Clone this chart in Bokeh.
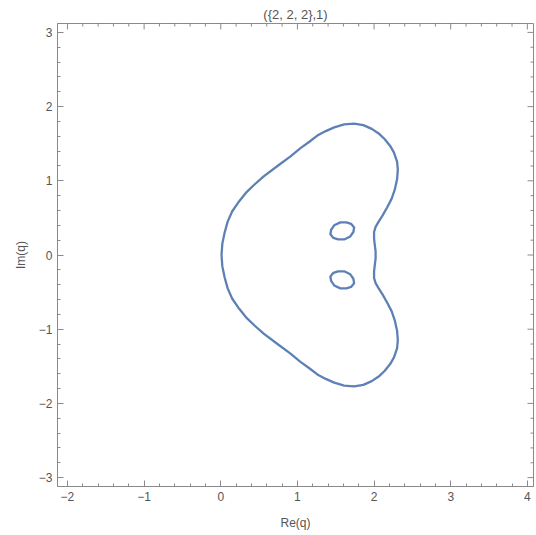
import math
from bokeh.plotting import figure
from bokeh.models import LinearAxis, FixedTicker, Title
from bokeh.embed import file_html
from bokeh.resources import INLINE

# Outer closed curve (Re(q), Im(q))
outer_x = [0.01, 0.02, 0.05, 0.09, 0.15, 0.23, 0.33, 0.44, 0.56, 0.74, 0.91, 1.04, 1.16, 1.26, 1.37, 1.48,
           1.61, 1.74, 1.86, 1.97, 2.07, 2.14, 2.21, 2.26, 2.30, 2.31, 2.30, 2.27, 2.23, 2.17, 2.11, 2.06,
           2.02, 2.00, 2.00, 2.01, 2.02, 2.02, 2.01, 2.00, 2.00, 2.02, 2.06, 2.11, 2.17, 2.23, 2.27, 2.30,
           2.31, 2.30, 2.26, 2.21, 2.14, 2.07, 1.97, 1.86, 1.74, 1.61, 1.48, 1.37, 1.26, 1.16, 1.04, 0.91,
           0.74, 0.56, 0.44, 0.33, 0.23, 0.15, 0.09, 0.05, 0.02, 0.01]
outer_y = [0.00, 0.15, 0.30, 0.45, 0.59, 0.71, 0.84, 0.95, 1.06, 1.20, 1.33, 1.44, 1.53, 1.61, 1.67, 1.72,
           1.76, 1.77, 1.75, 1.70, 1.63, 1.56, 1.47, 1.38, 1.26, 1.15, 1.02, 0.88, 0.76, 0.64, 0.53, 0.45,
           0.38, 0.31, 0.22, 0.13, 0.05, -0.05, -0.13, -0.22, -0.31, -0.38, -0.45, -0.53, -0.64, -0.76, -0.88, -1.02,
           -1.15, -1.26, -1.38, -1.47, -1.56, -1.63, -1.70, -1.75, -1.77, -1.76, -1.72, -1.67, -1.61, -1.53, -1.44, -1.33,
           -1.20, -1.06, -0.95, -0.84, -0.71, -0.59, -0.45, -0.30, -0.15, 0.00]

# Upper small oval
oval1_x = [1.74, 1.70, 1.64, 1.56, 1.48, 1.44, 1.43, 1.47, 1.53, 1.61, 1.69, 1.73, 1.74]
oval1_y = [0.37, 0.42, 0.44, 0.44, 0.40, 0.34, 0.28, 0.23, 0.21, 0.21, 0.25, 0.31, 0.37]

# Lower small oval
oval2_x = [1.74, 1.70, 1.64, 1.56, 1.48, 1.44, 1.43, 1.47, 1.53, 1.61, 1.69, 1.73, 1.74]
oval2_y = [-0.38, -0.43, -0.45, -0.45, -0.41, -0.35, -0.29, -0.24, -0.22, -0.22, -0.26, -0.32, -0.38]

x_ticks = [-2, -1, 0, 1, 2, 3, 4]
x_tick_labels = ["\u22122", "\u22121", "0", "1", "2", "3", "4"]
y_ticks = [-3, -2, -1, 0, 1, 2, 3]
y_tick_labels = ["\u22123", "\u22122", "\u22121", "0", "1", "2", "3"]
x_minor = [round(-2.0 + 0.2 * i, 2) for i in range(0, 31) if i % 5 != 0]
y_minor = [round(-3.0 + 0.2 * i, 2) for i in range(0, 31) if i % 5 != 0]

title_text = "({2, 2, 2},1)"
x_label = "Re(q)"
y_label = "Im(q)"

X0, X1 = -2.13, 4.08
Y0, Y1 = -3.12, 3.12

FONT = "Liberation Sans"
AXIS_COLOR = "#8a8a8a"
TEXT_COLOR = "#555555"
LINE_COLOR = "#5E81B5"

p = figure(width=536, height=535, x_range=(X0, X1), y_range=(Y0, Y1),
           output_backend="svg", toolbar_location=None, x_axis_location=None, y_axis_location=None,
           min_border_left=57, min_border_right=3, min_border_top=23, min_border_bottom=49)
p.grid.visible = False
p.outline_line_color = AXIS_COLOR
p.background_fill_color = "white"
p.border_fill_color = "white"

def make_axis(ticks, labels, minor, axis_label, label_standoff):
    ax = LinearAxis(ticker=FixedTicker(ticks=ticks, minor_ticks=minor))
    ax.axis_line_color = AXIS_COLOR
    ax.major_tick_line_color = AXIS_COLOR
    ax.minor_tick_line_color = AXIS_COLOR
    ax.major_tick_in = 6
    ax.major_tick_out = 0
    ax.minor_tick_in = 3
    ax.minor_tick_out = 0
    ax.major_label_overrides = {t: l for t, l in zip(ticks, labels)}
    ax.major_label_text_font = FONT
    ax.major_label_text_font_size = "12px"
    ax.major_label_text_color = TEXT_COLOR
    ax.major_label_standoff = 5
    ax.axis_label = axis_label
    ax.axis_label_text_font = FONT
    ax.axis_label_text_font_size = "12px"
    ax.axis_label_text_font_style = "normal"
    ax.axis_label_text_color = TEXT_COLOR
    ax.axis_label_standoff = label_standoff
    return ax

p.add_layout(make_axis(x_ticks, x_tick_labels, x_minor, x_label, 12), "below")
p.add_layout(make_axis(y_ticks, y_tick_labels, y_minor, y_label, 8), "left")

# inward ticks on the top and right frame edges
p.ray(x=x_ticks, y=[Y1] * len(x_ticks), length=6, angle=-math.pi / 2, length_units="screen",
      line_color=AXIS_COLOR, line_width=1)
p.ray(x=x_minor, y=[Y1] * len(x_minor), length=3, angle=-math.pi / 2, length_units="screen",
      line_color=AXIS_COLOR, line_width=1)
p.ray(x=[X1] * len(y_ticks), y=y_ticks, length=6, angle=math.pi, length_units="screen",
      line_color=AXIS_COLOR, line_width=1)
p.ray(x=[X1] * len(y_minor), y=y_minor, length=3, angle=math.pi, length_units="screen",
      line_color=AXIS_COLOR, line_width=1)

t = Title(text=title_text, align="center", text_font=FONT, text_font_size="13px",
          text_font_style="normal", text_color=TEXT_COLOR, standoff=3)
p.add_layout(t, "above")

for xs, ys in [(outer_x, outer_y), (oval1_x, oval1_y), (oval2_x, oval2_y)]:
    p.line(xs, ys, line_color=LINE_COLOR, line_width=2.3, line_join="round", line_cap="round")

open("out.html", "w").write(file_html(p, INLINE))
